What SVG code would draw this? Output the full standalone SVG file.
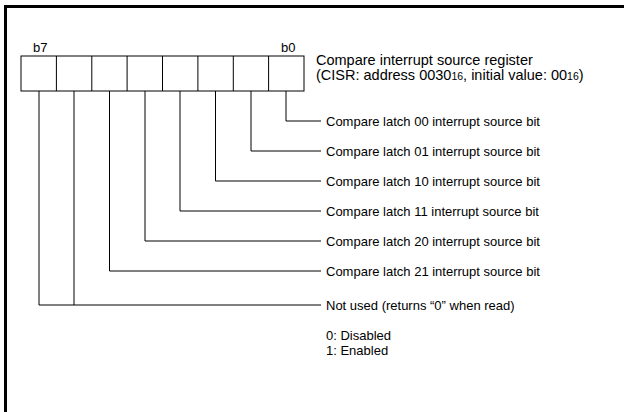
<svg xmlns="http://www.w3.org/2000/svg" width="624" height="412" viewBox="0 0 624 412">
<style>
text{font-family:"Liberation Sans",Arial,sans-serif;font-size:13px;fill:#000}
.t{font-size:14.5px}
.sub{font-size:10.5px}
.ln{stroke:#000;stroke-width:1;fill:none}
.frame{stroke:#000;stroke-width:3;fill:none}
</style>
<rect width="624" height="412" fill="#fff"/>
<path class="frame" d="M5.5 412V6.5H624"/>
<g id="register">
<rect class="ln" x="21" y="56" width="283" height="35"/>
<path class="ln" d="M56.4 56V91M91.8 56V91M127.1 56V91M162.5 56V91M197.9 56V91M233.3 56V91M268.6 56V91"/>
<text x="33" y="52">b7</text>
<text x="281" y="52">b0</text>
</g>
<g id="title">
<text class="t" x="316" y="65">Compare interrupt source register</text>
<text class="t" x="316" y="80">(CISR: address 0030<tspan class="sub">16</tspan>, initial value: 00<tspan class="sub">16</tspan>)</text>
</g>
<g id="connectors">
<path class="ln" d="M286 91V121H321"/>
<path class="ln" d="M251 91V151H321"/>
<path class="ln" d="M215.5 91V181H321"/>
<path class="ln" d="M180 91V211H321"/>
<path class="ln" d="M145 91V241H321"/>
<path class="ln" d="M109.5 91V271H321"/>
<path class="ln" d="M74 91V305"/>
<path class="ln" d="M39 91V305H321"/>
</g>
<g id="bit0"><text x="326" y="125.5">Compare latch 00 interrupt source bit</text></g>
<g id="bit1"><text x="326" y="155.5">Compare latch 01 interrupt source bit</text></g>
<g id="bit2"><text x="326" y="185.5">Compare latch 10 interrupt source bit</text></g>
<g id="bit3"><text x="326" y="215.5">Compare latch 11 interrupt source bit</text></g>
<g id="bit4"><text x="326" y="245.5">Compare latch 20 interrupt source bit</text></g>
<g id="bit5"><text x="326" y="275.5">Compare latch 21 interrupt source bit</text></g>
<g id="bit67"><text x="326" y="309.5">Not used (returns “0” when read)</text></g>
<g id="legend">
<text x="326" y="340">0: Disabled</text>
<text x="326" y="355">1: Enabled</text>
</g>
</svg>
